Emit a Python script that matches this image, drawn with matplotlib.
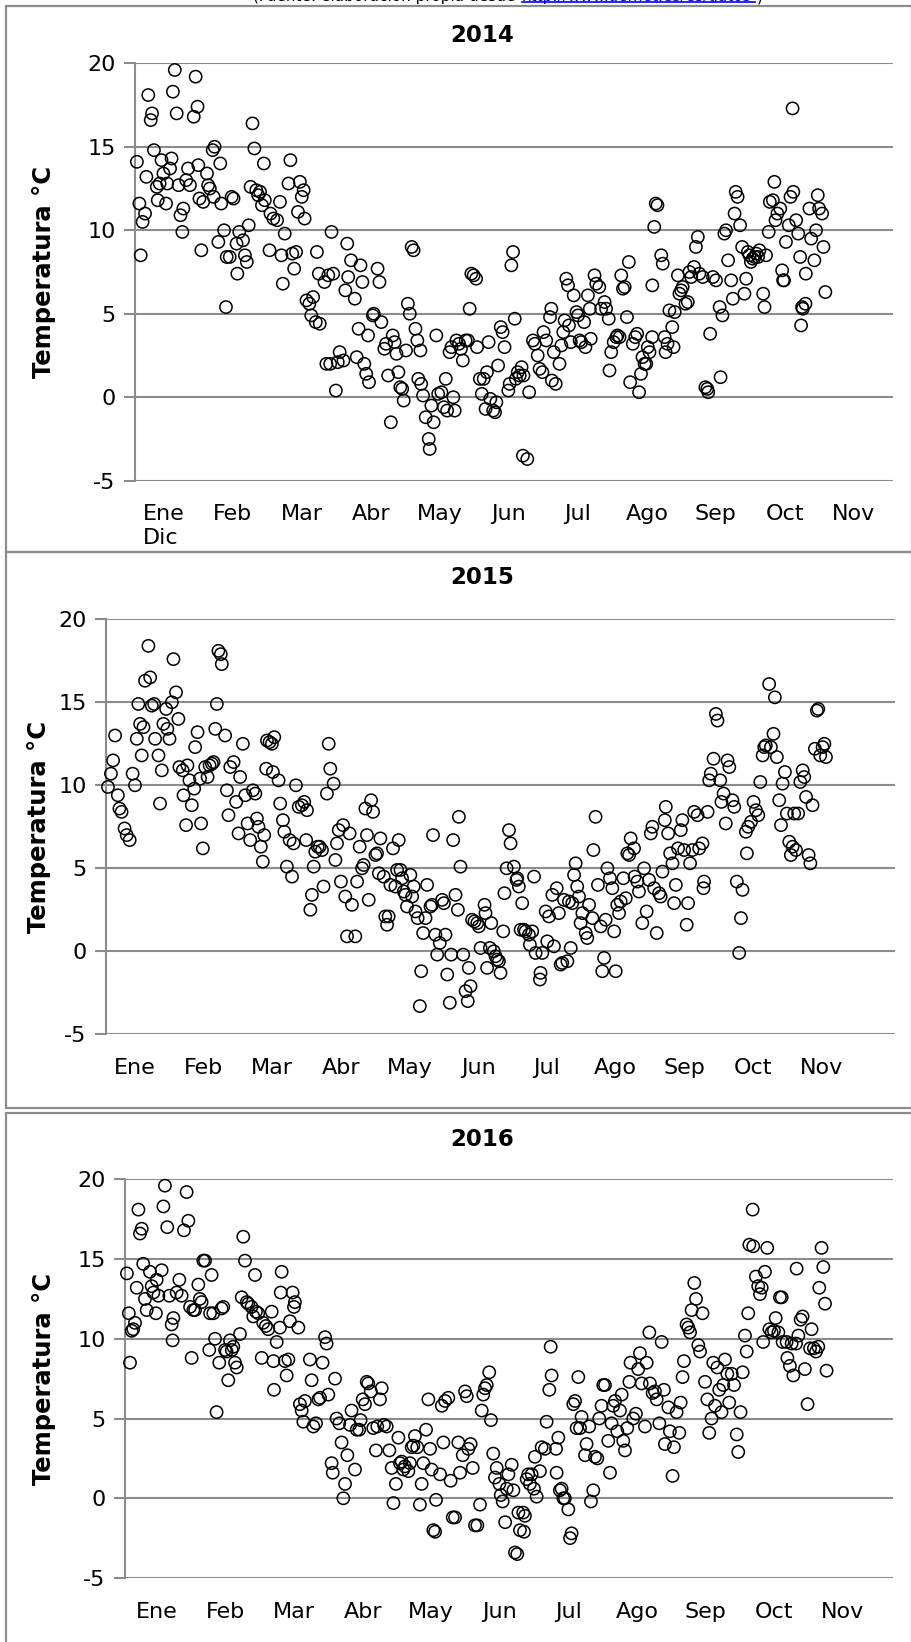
import matplotlib
matplotlib.use("Agg")
import matplotlib.pyplot as plt
from matplotlib.patches import Rectangle
from matplotlib.lines import Line2D

# Figure size in pixels (dpi 100)
W, H = 911, 1642

MESES = ["Ene", "Feb", "Mar", "Abr", "May", "Jun", "Jul", "Ago", "Sep", "Oct", "Nov"]

# --- 2014: day index and daily temperature (°C) ---
dias_2014 = [
    1, 2.3, 3, 4, 5.3, 6, 7, 8.3, 9, 10, 11.5, 12, 13, 14, 15, 16.4, 17, 18.5, 19.3, 20,
    21, 22, 23, 24, 25, 25.5, 27, 28, 29, 31, 32, 33, 33.4, 34, 35, 36, 38, 38.6, 39.5, 41,
    41.5, 42, 44, 45, 45.5, 47, 48, 48.4, 50, 51, 52, 53.6, 54, 55, 57, 58, 59, 60, 61, 62,
    63, 64, 65, 66, 67, 68, 68.5, 71, 71.5, 73, 75, 76.5, 77.3, 78, 79, 81, 82, 83, 84, 85,
    86, 87, 88, 89, 89.5, 90.5, 92, 93, 94, 95.4, 96, 97, 97.5, 100, 101, 102, 103, 103.7, 104.6, 106,
    107, 108, 110, 111, 112, 112.5, 114, 116, 117, 118, 119, 120, 121, 122, 123, 123.5, 125.5, 126, 128, 129,
    130, 131.6, 132.5, 133.6, 135, 136, 137, 138, 139, 140, 141, 141.8, 143, 144, 145, 146, 147, 148, 149, 149.5,
    150.6, 151, 152, 153.4, 155, 155.5, 156.4, 157.6, 159, 160, 161.7, 163, 164, 164.7, 166, 167, 168, 168.7, 169.6, 171,
    172, 173, 174.5, 175.7, 176.6, 177.5, 178.7, 180, 180.5, 182, 183, 184, 185, 185.7, 186.6, 187.5, 189, 190, 190.7, 191.6,
    193, 194, 195, 197, 197.7, 198.6, 199.5, 200.4, 201, 202, 203, 204, 204.7, 205, 207, 208,
    210, 211, 212.5, 213.5, 215, 215.6, 217, 219, 219.7, 220, 221, 222, 224, 225, 226, 226.7, 227.6, 228.5, 229, 230,
    231.5, 233, 233.8, 234.6, 235.5, 237, 237.7, 239, 240, 240.5, 242.5, 243.4, 245, 246, 247.8, 248.6, 250, 250.4, 251.3, 252.6,
    254, 254.6, 255.7, 256.6, 257.5, 258.4, 259.6, 260.6, 261.3, 262.7, 264, 265, 266, 267, 267.8, 268.9, 269.8, 270.6, 271.5, 272.9,
    273, 274, 274.8, 275.7, 277.7, 278.5, 279.5, 280, 281, 282, 283.5, 284.2, 284.8, 286.5, 287.3, 288.2, 289, 290.5, 291.7, 292.6,
    293.5, 295, 296, 297, 297.8, 299.6, 301, 302, 302.5, 303.5, 305, 306.6, 308.5, 309, 310, 311, 311.9, 313, 314.6, 315.5,
    316.4, 317, 318, 319.3, 320.4, 321.6, 322.5, 323.4, 324.3, 325, 326, 327, 327.9, 328.8, 329.5, 331.5, 332.2, 333, 334.4, 335,
    336.6, 337.4, 338, 339, 340.5, 341.5, 342, 342.5, 343.5, 345, 345.9, 347, 347.4, 348.9, 350, 351, 351.5, 352, 352.4, 353.8,
    354, 355.9, 356.8, 358.5, 359.4, 360.3, 361, 362.6, 363.3, 364.3,
]
temp_2014 = [
    14.1, 11.6, 8.5, 10.5, 11.0, 13.2, 18.1, 16.6, 17.0, 14.8, 12.6, 11.8, 12.8, 14.2, 13.4, 11.6, 12.8, 13.7, 14.3, 18.3,
    19.6, 17.0, 12.7, 10.9, 9.9, 11.3, 13.0, 13.7, 12.7, 16.8, 19.2, 17.4, 13.9, 11.9, 8.8, 11.7, 13.4, 12.7, 12.5, 14.8,
    12.0, 15.0, 9.3, 14.0, 11.6, 10.0, 5.4, 8.4, 8.4, 12.0, 11.9, 9.2, 7.4, 9.9, 9.4, 8.5, 8.1, 10.3, 12.6, 16.4,
    14.9, 12.4, 12.1, 12.3, 11.5, 14.0, 11.8, 8.8, 11.0, 10.7, 10.6, 11.7, 8.5, 6.8, 9.8, 12.8, 14.2, 8.6, 7.7, 8.7,
    11.1, 12.9, 12.0, 12.4, 10.7, 5.8, 5.6, 4.9, 6.0, 4.5, 8.7, 7.4, 4.4, 6.9, 2.0, 7.3, 2.0, 9.9, 7.4, 0.4,
    2.1, 2.7, 2.2, 6.4, 9.2, 7.2, 8.2, 5.9, 2.4, 4.1, 7.9, 6.9, 2.0, 1.4, 3.7, 0.9, 4.9, 5.0, 7.7, 6.9,
    4.5, 2.9, 3.2, 1.3, -1.5, 3.7, 3.3, 2.6, 1.5, 0.6, 0.5, -0.2, 2.8, 5.6, 5.0, 9.0, 8.8, 4.1, 3.4, 1.1,
    2.8, 0.8, 0.1, -1.2, -2.5, -3.1, -0.5, -1.5, 3.7, 0.2, 0.3, -0.6, 1.1, -0.8, 2.7, 3.0, 0.0, -0.8, 3.4, 3.2,
    2.9, 2.2, 3.4, 3.4, 5.3, 7.4, 7.3, 7.1, 3.0, 1.1, 0.2, 1.1, -0.7, 1.5, 3.3, -0.1, -0.8, -0.9, -0.3, 1.9,
    4.2, 3.9, 3.0, 0.4, 0.8, 7.9, 8.7, 4.7, 1.1, 1.5, 1.3, 1.8, -3.5, 1.3, -3.7, 0.3,
    3.4, 3.2, 2.5, 1.7, 1.5, 3.9, 3.4, 4.8, 5.3, 1.0, 2.7, 0.8, 2.0, 3.1, 3.9, 4.6, 7.1, 6.7, 4.3, 3.3,
    6.1, 5.1, 4.9, 3.4, 3.3, 4.5, 3.0, 6.1, 5.3, 3.5, 7.3, 6.8, 6.6, 5.3, 5.7, 5.3, 4.7, 1.6, 2.7, 3.3,
    3.6, 3.7, 3.6, 7.3, 6.5, 6.6, 4.8, 8.1, 0.9, 3.2, 3.6, 3.8, 0.3, 1.4, 2.4, 2.0, 2.0, 3.0, 2.7, 3.6,
    6.7, 10.2, 11.6, 11.5, 8.5, 8.0, 3.6, 2.7, 3.2, 5.2, 4.2, 3.0, 5.1, 7.3, 6.2, 6.4, 6.6, 5.6, 5.7, 7.5,
    7.2, 7.8, 9.0, 9.6, 7.4, 7.2, 0.6, 0.5, 0.3, 3.8, 7.2, 7.0, 5.4, 1.2, 4.9, 9.8, 10.0, 8.2, 7.0, 5.9,
    11.0, 12.3, 12.0, 10.3, 9.0, 6.2, 7.1, 8.7, 8.5, 8.1, 8.3, 8.4, 8.6, 8.4, 8.8, 6.2, 5.4, 8.5, 9.9, 11.7,
    11.8, 12.9, 10.6, 11.0, 11.3, 7.6, 7.0, 7.0, 9.3, 10.3, 12.0, 17.3, 12.3, 10.6, 9.8, 8.4, 4.3, 5.4, 5.3, 5.6,
    7.4, 11.3, 9.5, 8.2, 10.0, 12.1, 11.3, 11.0, 9.0, 6.3,
]

# --- 2015 ---
dias_2015 = [
    1, 2.5, 3.6, 4.6, 6, 6.8, 7.9, 9.4, 10.5, 12, 13.5, 14.7, 15.6, 16.4, 17.3, 18.1, 19, 19.8, 21.5, 22.4,
    23.2, 24.4, 24.9, 26.6, 27.4, 28.3, 29.1, 30.5, 31.1, 32.2, 33.4, 34.2, 35.5, 36.7, 37.2, 38.9, 39.3, 40.6, 41.3, 42.3,
    43.5, 44.7, 45.2, 46.4, 47.7, 48.2, 49.1, 50.3, 51.5, 52.5, 53.7, 54.5, 55.4, 56.2, 57, 58.2, 58.7, 60.4, 61.3, 62.1,
    63, 64.7, 66, 67.2, 68, 69.4, 70.6, 71.8, 73.1, 74.5, 75.7, 76.5, 77.3, 78.5, 79.5, 80.2, 81.2, 81.6, 82.9, 84.1,
    84.6, 85.3, 87.5, 88.3, 89.7, 90.4, 91.7, 93.1, 94.3, 95.1, 96.3, 97.7, 99.3, 100.5, 101.5, 101.9, 103.6, 104.4, 105.3, 106.1,
    107.3, 108.3, 109.5, 110.3, 112, 112.9, 113.7, 115.4, 116.3, 117.1, 118, 119.1, 120.2, 121.3, 122.2, 123.5, 124.7, 126.4, 127.3, 128.6,
    129.8, 130.6, 131.5, 132.3, 133.2, 134.4, 135.4, 136.6, 137.4, 138.3, 139.1, 140.8, 141.6, 142.5, 143.3, 144.2, 145.5, 146.7, 147.6, 148.4,
    149.3, 150.1, 151, 151.8, 152.6, 154.3, 155.2, 156, 156.9, 158, 159.1, 159.8, 160.8, 162, 162.8, 164.5, 165.3, 165.8, 167, 167.9,
    169.2, 170.4, 171.3, 172.1, 173, 174.3, 175, 176, 177.2, 178.4, 178.9, 179.7, 181.1, 182.3, 183.4, 183.9, 184.8, 185.6, 186.8, 188.2,
    189, 189.9, 191.9, 192.4, 193.2, 194.6, 195.3, 196.6, 197.5, 198.3, 199.2, 200, 201.4, 202, 203.1, 204.3, 205.1, 206.8, 208.1, 208.5,
    209.3, 210.2, 211, 211.9, 212.7, 214.4, 214.9, 216.1, 217, 217.8, 220, 220.3, 221.2, 222.9, 223.7, 224.6, 226.3, 227.1, 228.5, 229.6,
    230.5, 231.3, 232.2, 233.9, 234.7, 235.6, 236.4, 237.3, 238.1, 238.9, 239.8, 240.6, 241.5, 243.2, 244, 244.9, 246.6, 247.1, 248.2, 249.4,
    250.8, 251.6, 252.5, 253.3, 254.2, 255.5, 256.7, 257.6, 258.4, 259.2, 260.1, 260.9, 262.3, 263.5, 264.3, 265.2, 266, 267.7, 268, 269.4,
    270.2, 271.9, 272.8, 274.1, 275.3, 276.2, 277, 277.9, 279.2, 280.4, 281.2, 282.1, 283.3, 283.8, 285, 286, 287.2, 288, 288.9, 290,
    291.4, 292.2, 293.1, 294.4, 295.1, 296.1, 297.3, 298.2, 299.9, 300.7, 302.4, 302.9, 303.2, 305, 305.8, 306.6, 308, 309.2, 310, 311.4,
    312, 313.1, 314.2, 315.1, 316, 317.6, 318.5, 319.8, 321, 321.9, 322.7, 324.4, 324.9, 325.6, 327, 328.3, 329.5, 330.7, 331.7, 332.9,
    333.7, 334.5, 336.2, 337.1, 338.4, 339.1, 340.1, 341.3, 342.2, 343, 344.2, 345.2, 346.4, 347.2, 348.1, 348.9, 349.8, 350.9, 352, 353.2,
    354, 354.9, 356.2, 357.1, 358.2, 359.4, 360.4, 361.1, 362.1, 363.3, 364.2, 365,
]
temp_2015 = [
    9.9, 10.7, 11.5, 13.0, 9.4, 8.6, 8.4, 7.4, 7.0, 6.7, 10.7, 10.0, 12.8, 14.9, 13.7, 11.8, 13.5, 16.3, 18.4, 16.5,
    14.8, 14.9, 12.8, 11.8, 8.9, 10.9, 13.7, 14.6, 13.4, 12.8, 15.0, 17.6, 15.6, 14.0, 11.1, 10.9, 9.4, 7.6, 11.2, 10.3,
    8.8, 9.8, 12.3, 13.2, 10.4, 7.7, 6.2, 11.1, 10.5, 11.2, 11.3, 11.4, 13.4, 14.9, 18.1, 17.9, 17.3, 13.0, 9.7, 8.2,
    11.1, 11.4, 9.0, 7.1, 10.5, 12.5, 9.4, 7.7, 6.7, 9.7, 9.5, 8.0, 7.5, 6.3, 5.4, 7.0, 11.0, 12.7, 12.6, 12.5,
    10.8, 12.9, 10.3, 8.9, 7.9, 7.2, 5.1, 6.7, 4.5, 6.5, 10.0, 8.7, 8.8, 9.0, 6.7, 8.5, 2.5, 3.4, 5.1, 6.0,
    6.3, 6.3, 6.1, 3.9, 9.5, 12.5, 11.0, 10.1, 5.5, 6.5, 7.3, 4.2, 7.6, 3.3, 0.9, 7.1, 2.8, 0.9, 4.2, 6.3,
    5.0, 5.2, 8.6, 7.0, 3.1, 9.1, 8.4, 5.8, 5.9, 4.7, 6.8, 4.5, 2.1, 1.6, 2.1, 4.0, 6.2, 3.9, 4.9, 6.7,
    4.9, 4.4, 3.6, 3.4, 2.7, 4.6, 3.3, 3.9, 2.4, 2.0, -3.3, -1.2, 1.1, 2.0, 4.0, 2.7, 2.8, 7.0, 1.0, -0.2,
    0.5, 3.1, 2.9, 1.0, -1.4, -3.1, -0.2, 6.7, 3.4, 2.5, 8.1, 5.1, -0.2, -2.4, -3.0, -1.0, -2.1, 1.9, 1.8, 1.7,
    1.5, 0.2, 2.8, 2.3, -1.0, 0.2, 1.7, 0.0, -0.3, -0.5, -0.6, -1.3, 1.2, 3.5, 5.0, 7.3, 6.5, 5.1, 4.3, 4.4,
    3.9, 1.3, 2.9, 1.3, 1.2, 1.0, 0.4, 1.2, 4.5, -0.1, -1.7, -1.3, -0.1, 2.4, 0.6, 2.1, 3.4, 0.3, 3.8, 2.3,
    -0.8, -0.7, 3.1, -0.6, 3.0, 0.2, 2.9, 4.6, 5.3, 3.9, 3.3, 1.7, 2.3, 1.1, 0.8, 2.8, 2.0, 6.1, 8.1, 4.0,
    1.5, -1.2, -0.4, 1.9, 5.0, 4.4, 3.8, 1.2, -1.2, 2.8, 2.3, 3.0, 4.4, 3.2, 5.9, 5.8, 6.8, 6.2, 4.5, 4.2,
    3.6, 1.7, 5.0, 2.4, 4.3, 7.1, 7.5, 3.8, 1.1, 3.5, 3.3, 4.8, 7.9, 8.7, 7.1, 5.9, 5.3, 2.9, 4.0, 6.2,
    7.3, 7.9, 6.1, 1.6, 2.9, 5.3, 6.1, 8.4, 8.2, 6.2, 6.5, 3.8, 4.2, 8.4, 10.3, 10.7, 11.6, 14.3, 13.9, 10.3,
    9.0, 9.5, 7.7, 11.5, 11.1, 9.1, 8.7, 4.2, -0.1, 2.0, 3.7, 7.2, 5.9, 7.5, 7.8, 9.0, 8.5, 8.2, 10.2, 11.8,
    12.3, 12.4, 16.1, 12.3, 13.1, 15.3, 11.7, 9.1, 7.6, 10.1, 10.8, 8.3, 6.6, 5.8, 6.3, 8.3, 6.1, 8.3, 10.2, 10.9,
    10.5, 9.3, 5.8, 5.3, 8.8, 12.2, 14.5, 14.6, 11.8, 12.3, 12.5, 11.7,
]

# --- 2016 ---
dias_2016 = [
    1, 2, 2.6, 3.5, 4.3, 5.2, 6.1, 7, 7.8, 8.7, 9.5, 10.4, 11.3, 13, 13.9, 14.8, 16.1, 16.5, 17.4, 19.1,
    20, 20.8, 22, 23.1, 24.3, 24.8, 25.2, 26.9, 28.3, 29.5, 30.7, 32.1, 33, 33.9, 34.7, 35.6, 36.5, 38.2, 39, 39.9,
    40.8, 41.7, 43.9, 44.3, 45.1, 46, 46.9, 47.7, 49.1, 50.3, 51.2, 52.1, 52.9, 53.8, 54.7, 55.6, 56.4, 57.3, 58.2, 59.9,
    60.8, 61.6, 62.5, 63.4, 64.2, 65.9, 66.8, 67.7, 68.2, 69.4, 71.2, 72, 73.4, 74.6, 76.4, 77.3, 77.6, 79, 80.7, 81.1,
    81.6, 83.3, 84.2, 85.1, 85.9, 87.3, 88, 88.5, 90.3, 91.1, 92, 92.9, 93.7, 96.3, 97.2, 98.1, 99.5, 100.7, 101.6, 102.9,
    104.2, 105, 105.9, 107.6, 108.2, 109.4, 110.2, 111.6, 112.8, 113.7, 114.6, 115.8, 117.2, 118, 119.8, 120.7, 122, 122.7, 123.8, 125,
    125.9, 126.7, 128, 129.3, 130.7, 131.4, 132.8, 133.7, 134.9, 136.3, 137.7, 138.9, 139.8, 141.1, 142.4, 143.2, 144.1, 145, 145.8, 147.6,
    148.4, 149.3, 150.2, 151, 152.2, 153.6, 154.5, 155.4, 156.8, 158, 158.9, 159.7, 160.6, 161.5, 162, 164.1, 165, 165.8, 166.7, 168.4,
    169.6, 170.7, 171.9, 173.6, 174.5, 175.9, 177.1, 178, 178.8, 180, 181.1, 182.3, 183.5, 184.9, 185.8, 186.6, 187.5, 188.4, 189.7, 190.6,
    191.8, 192.7, 193.6, 195, 195.7, 196.7, 198, 198.8, 199.7, 201.4, 202.3, 203.1, 204.3, 204.9, 205.7, 207.4, 207.8, 208.3, 209.2, 210,
    210.9, 211.8, 213, 213.5, 214.4, 216.1, 217, 218.7, 219.6, 221, 221.7, 222.2, 224.5, 224.8, 225.7, 226.5, 227.4, 228.3, 229.1, 230.9,
    231.8, 232.6, 233.5, 234.4, 235.2, 236.1, 237, 237.8, 239.6, 240.4, 241.8, 242.7, 243.9, 244.8, 246, 247, 248.2, 249.1, 250, 251.7,
    252.6, 253.4, 254.3, 255.2, 256.4, 257.8, 258.7, 259.5, 260.4, 261.6, 262.7, 263.3, 264.7, 266.1, 267.3, 268.2, 269.1, 270.8, 271.7, 273.1,
    273.4, 274.8, 276, 276.9, 278.3, 279.5, 280.7, 281.2, 283, 283.8, 285.2, 285.9, 287.3, 288.7, 289.4, 290.4, 291.1, 292.5, 293.4, 294.3,
    295.1, 296.5, 297.4, 298.6, 299.5, 300.8, 302.1, 303.3, 304.3, 305.5, 306.4, 307.3, 308.5, 309.5, 310.7, 311.6, 312.5, 313.7, 314.7, 316,
    317.2, 318.6, 319.4, 320.6, 321.7, 322.9, 323.8, 324.6, 325.2, 326.9, 327.2, 328.6, 329.8, 330.7, 331.6, 332.4, 333.3, 334.5, 335.6, 336.8,
    338, 338.9, 340.3, 341.1, 342, 342.5, 344.6, 345, 346.3, 347.2, 348.1, 349.5, 349.8, 350.7, 351.9, 352.9, 354.1, 355.5, 356.8, 357.6,
    358.8, 359.9, 361.1, 361.6, 362.8, 363.7, 364.6, 365.4,
]
temp_2016 = [
    14.1, 11.6, 8.5, 10.5, 10.6, 11.0, 13.2, 18.1, 16.6, 16.9, 14.7, 12.5, 11.8, 14.2, 13.3, 12.9, 11.6, 13.7, 12.7, 14.3,
    18.3, 19.6, 17.0, 12.7, 10.9, 9.9, 11.3, 12.9, 13.7, 12.7, 16.8, 19.2, 17.4, 12.0, 8.8, 11.8, 11.8, 13.4, 12.5, 12.3,
    14.9, 14.9, 9.3, 11.6, 14.0, 11.6, 10.0, 5.4, 8.5, 11.9, 12.0, 9.3, 9.2, 7.4, 9.9, 9.3, 9.5, 8.5, 8.2, 10.3,
    12.6, 16.4, 14.9, 12.3, 12.2, 12.0, 11.4, 14.0, 11.7, 11.6, 8.8, 11.0, 10.8, 10.6, 11.7, 8.6, 6.8, 9.8, 10.7, 12.9,
    14.2, 8.6, 7.7, 8.7, 11.1, 12.9, 12.0, 12.3, 10.7, 5.9, 5.5, 4.8, 6.1, 8.7, 7.4, 4.5, 4.7, 6.2, 6.3, 8.5,
    10.1, 9.7, 6.5, 2.2, 1.6, 7.5, 5.0, 4.7, 3.5, 0.0, 0.9, 2.7, 4.6, 5.5, 1.8, 4.3, 4.3, 4.9, 6.2, 5.9,
    7.3, 7.2, 6.7, 4.4, 3.0, 4.5, 6.2, 6.9, 4.6, 4.5, 3.0, 1.9, -0.3, 0.9, 3.8, 2.2, 2.3, 1.8, 2.0, 1.7,
    2.2, 3.2, 3.3, 3.9, 3.2, -0.4, 0.9, 2.2, 4.3, 6.2, 3.1, 1.8, -2.0, -2.1, -0.1, 1.5, 5.8, 3.5, 6.1, 6.3,
    1.1, -1.2, -1.2, 3.5, 1.6, 2.7, 6.7, 6.4, 3.1, 3.4, 1.9, -1.7, -1.7, -0.4, 5.5, 6.5, 6.9, 7.1, 7.9, 4.9,
    2.8, 1.3, 1.9, 0.9, 0.2, -0.2, -1.5, 0.6, 1.5, 2.1, 0.5, -3.4, -3.5, -0.9, -2.0, -0.9, -2.1, -1.1, 1.2, 1.5,
    0.9, 1.5, 0.6, 2.6, 0.1, 1.7, 3.2, 3.1, 4.8, 6.8, 9.5, 7.7, 3.1, 1.6, 3.8, 0.5, 0.6, 0.0, 0.0, -0.7,
    -2.5, -2.2, 5.9, 6.1, 4.4, 7.6, 4.4, 5.1, 2.7, 3.4, 4.5, -0.2, 0.5, 2.6, 2.5, 5.0, 5.8, 7.1, 7.1, 3.6,
    1.6, 4.7, 5.8, 6.1, 4.2, 5.5, 6.5, 3.6, 3.0, 4.4, 7.3, 8.5, 5.0, 5.3, 8.1, 9.1, 7.2, 4.5, 8.5, 10.4,
    7.2, 6.6, 6.7, 6.2, 4.7, 9.8, 6.8, 3.4, 5.7, 4.2, 1.4, 3.2, 5.4, 4.1, 6.0, 7.6, 8.6, 10.9, 10.7, 10.4,
    11.8, 13.5, 12.5, 9.6, 9.2, 11.6, 7.3, 6.2, 4.1, 5.0, 8.5, 5.8, 8.2, 6.8, 5.4, 7.1, 8.7, 7.8, 6.0, 7.8,
    7.1, 4.0, 2.9, 5.4, 7.9, 10.2, 9.2, 11.6, 15.9, 18.1, 15.8, 13.9, 13.3, 12.8, 13.2, 9.8, 14.2, 15.7, 10.6, 10.4,
    10.5, 11.3, 10.4, 12.6, 12.6, 9.8, 9.8, 8.8, 8.3, 9.7, 7.7, 9.7, 14.4, 10.2, 11.2, 11.4, 8.1, 5.9, 9.4, 10.6,
    9.4, 9.2, 9.5, 13.2, 15.7, 14.5, 12.2, 8.0,
]

# Month label positions along each panel's 0..400 day axis
pos_meses_2014 = [15.3 + 36.4 * k for k in range(11)]
pos_meses_2015 = [14.7 + 34.8 * k for k in range(11)]
pos_meses_2016 = [16.7 + 35.7 * k for k in range(11)]

GRIS = "#8c8c8c"


def px_box(l, t, r, b):
    """Pixel box (left, top, right, bottom) -> figure fraction rect."""
    return [l / W, 1 - b / H, (r - l) / W, (b - t) / H]


def panel(fig, box, dias, temps, pos_meses, etiquetas, titulo, titulo_y, ylabel_x):
    ax = fig.add_axes(px_box(*box))
    ax.scatter(dias, temps, s=78, facecolors="none", edgecolors="black",
               linewidths=1.1, zorder=3, clip_on=False)
    ax.set_xlim(0, 400)
    ax.set_ylim(-5, 20)
    ax.set_yticks(range(-5, 21, 5))
    ax.set_yticklabels([str(v) for v in range(-5, 21, 5)])
    ax.yaxis.grid(True, color=GRIS, linewidth=1.5)
    ax.set_axisbelow(True)
    for s in ("top", "right", "bottom"):
        ax.spines[s].set_visible(False)
    ax.spines["left"].set_color(GRIS)
    ax.spines["left"].set_linewidth(1.5)
    ax.tick_params(axis="y", length=8, width=1.5, color=GRIS, labelsize=16, pad=6)
    ax.set_xticks(pos_meses)
    ax.set_xticklabels(etiquetas, fontsize=16)
    ax.tick_params(axis="x", length=0, pad=17)

    fig.text(482 / W, 1 - titulo_y / H, titulo, ha="center", va="center",
             fontsize=16.5, fontweight="bold")
    cy = (box[1] + box[3]) / 2
    fig.text(ylabel_x / W, 1 - cy / H, "Temperatura °C", rotation=90,
             ha="center", va="center", fontsize=17.5, fontweight="bold")
    return ax


fig = plt.figure(figsize=(W / 100, H / 100), dpi=100)

# panel frames
for (l, t, r, b) in [(6, 6, 912, 552), (6, 552, 912, 1108), (6, 1113, 912, 1660)]:
    fig.add_artist(Rectangle((l / W, 1 - b / H), (r - l) / W, (b - t) / H,
                             transform=fig.transFigure, fill=False,
                             edgecolor=GRIS, linewidth=1.6))

# source line, almost completely cut off at the top edge
fig.text(520 / W, 1 - 1 / H, "(Fuente: elaboración propia desde ", ha="right",
         va="baseline", fontsize=11, color="black")
fig.text(522 / W, 1 - 1 / H, "http://www.aemet.es/es/datos", ha="left",
         va="baseline", fontsize=11, color="#0000ee")
fig.text(757 / W, 1 - 1 / H, ")", ha="left", va="baseline", fontsize=11)
fig.add_artist(Line2D([522 / W, 755 / W], [1 - 2.5 / H, 1 - 2.5 / H],
                      transform=fig.transFigure, color="#0000ee", linewidth=1.2))

etiq_2014 = ["Ene\nDic"] + MESES[1:]
ax1 = panel(fig, (135, 63.3, 893, 480.7), dias_2014, temp_2014, pos_meses_2014,
            etiq_2014, "2014", 35, 44)
ax1.get_xticklabels()[0].set_multialignment("left")

panel(fig, (106, 619.3, 895, 1034.3), dias_2015, temp_2015, pos_meses_2015,
      MESES, "2015", 577, 39)
panel(fig, (125, 1179.3, 893, 1578), dias_2016, temp_2016, pos_meses_2016,
      MESES, "2016", 1139, 44)

fig.savefig("out.png", dpi=100)
